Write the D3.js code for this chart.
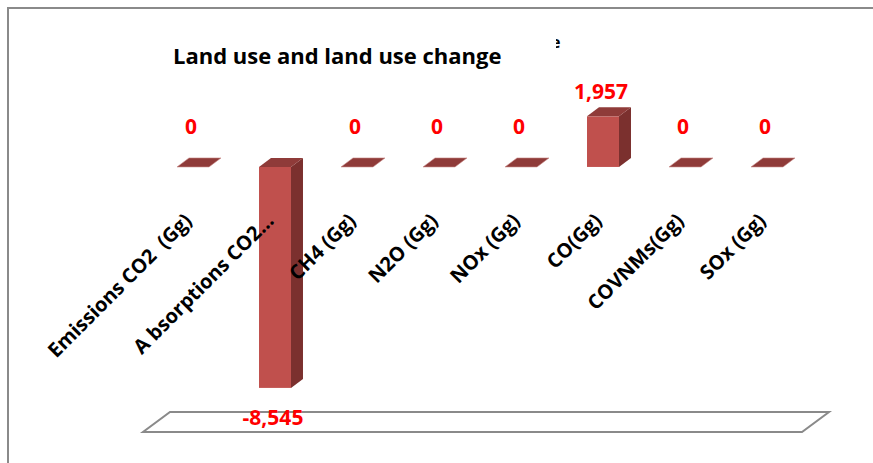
<!DOCTYPE html>
<html>
<head>
<meta charset="utf-8">
<title>Land use and land use change</title>
<script src="https://cdn.jsdelivr.net/npm/d3@7"></script>
<style>
  body { margin: 0; background: #fff; }
  text { font-family: "Open Sans", Lato, sans-serif; font-weight: bold; white-space: pre; }
</style>
</head>
<body>
<script>
let w = 873
let h = 463

let categories = ["Emissions CO2  (Gg)", "A bsorptions CO2...", "CH4 (Gg)", "N2O (Gg)",
                  "NOx (Gg)", "CO(Gg)", "COVNMs(Gg)", "SOx (Gg)"]
let values = [0, -8545, 0, 0, 0, 1957, 0, 0]
let valueLabels = ["0", "-8,545", "0", "0", "0", "1,957", "0", "0"]

let depth = {dx: 12, dy: -9}
let floorDepth = {dx: 27, dy: -20}

let svg = d3.select("body")
            .append("svg")
            .attr("width", w)
            .attr("height", h)

// chart border (only left and top show in the crop)
svg.append("path")
   .attr("d", "M8," + h + " L8,8 L" + w + ",8")
   .attr("fill", "none")
   .attr("stroke", "#8a8a8a")
   .attr("stroke-width", 2)

let x = d3.scaleBand()
          .domain(categories)
          .range([152, 808])
          .paddingInner(0.61)
          .paddingOuter(0.305)

let y = d3.scaleLinear()
          .domain([-10250, 2500])
          .range([432, 102.3])

// floor of the 3D plot
let fx0 = 143, fx1 = 802
let fy = y(-10250)
svg.append("polygon")
   .attr("points", [[fx0, fy], [fx1, fy], [fx1 + floorDepth.dx, fy + floorDepth.dy], [fx0 + floorDepth.dx, fy + floorDepth.dy]].join(" "))
   .attr("fill", "#fff")
   .attr("stroke", "#8a8a8a")
   .attr("stroke-width", 2)

let bars = svg.selectAll("g.bar")
              .data(values.map((v, i) => ({cat: categories[i], v: v, label: valueLabels[i]})))
              .enter()
              .append("g")
              .attr("class", "bar")

bars.each(function(d) {
    let g = d3.select(this)
    let x0 = x(d.cat)
    let x1 = x0 + x.bandwidth()
    let y0 = y(0)
    let yv = y(d.v)
    let yTop = Math.min(y0, yv)
    let yBot = Math.max(y0, yv)
    // side face
    g.append("polygon")
     .attr("points", [[x1, yTop], [x1 + depth.dx, yTop + depth.dy], [x1 + depth.dx, yBot + depth.dy], [x1, yBot]].join(" "))
     .attr("fill", "#7b302e")
    // front face
    if (yBot - yTop > 0) {
        g.append("rect")
         .attr("x", x0)
         .attr("y", yTop)
         .attr("width", x.bandwidth())
         .attr("height", yBot - yTop)
         .attr("fill", "#c0504d")
    }
    // top face
    g.append("polygon")
     .attr("points", [[x0, yTop], [x1, yTop], [x1 + depth.dx, yTop + depth.dy], [x0 + depth.dx, yTop + depth.dy]].join(" "))
     .attr("fill", "#8f3b39")
     .attr("stroke", d.v === 0 ? "#c98a88" : "none")
     .attr("stroke-width", 0.6)
})

// value labels
bars.append("text")
    .attr("x", (d) => x(d.cat) + x.bandwidth() / 2 - 2)
    .attr("y", (d) => {
        if (d.v > 0) return y(d.v) - 17
        if (d.v < 0) return y(d.v) + 37
        return y(0) - 33
    })
    .attr("text-anchor", "middle")
    .attr("fill", "#ff0000")
    .attr("font-size", 21)
    .text((d) => d.label)

// category labels, rotated
svg.selectAll("text.cat")
   .data(categories)
   .enter()
   .append("text")
   .attr("class", "cat")
   .attr("text-anchor", "end")
   .attr("font-size", 20)
   .attr("fill", "#000")
   .attr("transform", (d) => "translate(" + (x(d) + x.bandwidth() / 2) + ",222) rotate(-45)")
   .text((d) => d)

// title
svg.append("text")
   .attr("x", 173)
   .attr("y", 64)
   .attr("font-size", 22)
   .attr("fill", "#000")
   .text("Land use and land use change")

// stray glyph fragment to the right of the title
svg.append("clipPath")
   .attr("id", "frag")
   .append("rect")
   .attr("x", 556).attr("y", 30).attr("width", 10).attr("height", 25)
svg.append("text")
   .attr("x", 551)
   .attr("y", 48)
   .attr("font-size", 16)
   .attr("fill", "#000")
   .attr("clip-path", "url(#frag)")
   .text("e")
</script>
</body>
</html>
